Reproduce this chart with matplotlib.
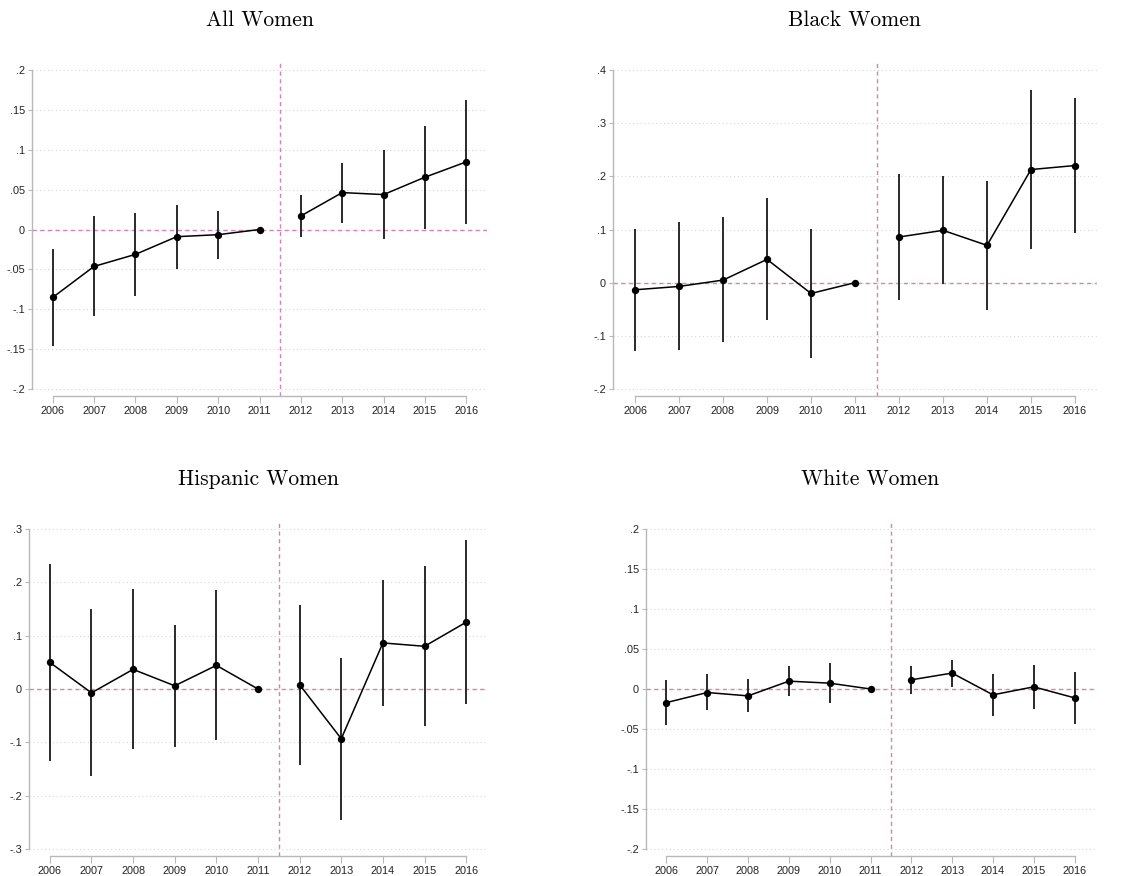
import numpy as np
import matplotlib.pyplot as plt

years = np.arange(2006, 2017)

# point estimates and 95% CI bounds, 2011 is the reference year
all_est = [-0.0852, -0.0463, -0.0312, -0.0090, -0.0065, 0.0, 0.0170, 0.0463, 0.0438, 0.0656, 0.0848]
all_hi = [-0.0249, 0.0165, 0.0207, 0.0312, 0.0232, 0.0, 0.0429, 0.0836, 0.0991, 0.1296, 0.1627]
all_lo = [-0.1464, -0.1091, -0.0831, -0.0496, -0.0371, 0.0, -0.0094, 0.0086, -0.0115, 0.0006, 0.0069]

black_est = [-0.0134, -0.0071, 0.0048, 0.0438, -0.0203, 0.0, 0.0859, 0.0984, 0.0702, 0.2128, 0.2203]
black_hi = [0.1016, 0.1135, 0.1230, 0.1588, 0.1003, 0.0, 0.2053, 0.2001, 0.1914, 0.3629, 0.3477]
black_lo = [-0.1290, -0.1270, -0.1120, -0.0706, -0.1410, 0.0, -0.0329, -0.0027, -0.0510, 0.0633, 0.0928]

hisp_est = [0.0499, -0.0072, 0.0368, 0.0060, 0.0443, 0.0, 0.0079, -0.0933, 0.0864, 0.0801, 0.1253]
hisp_hi = [0.2353, 0.1498, 0.1869, 0.1203, 0.1850, 0.0, 0.1574, 0.0587, 0.2051, 0.2303, 0.2786]
hisp_lo = [-0.1348, -0.1637, -0.1134, -0.1090, -0.0964, 0.0, -0.1417, -0.2460, -0.0324, -0.0700, -0.0280]

white_est = [-0.0170, -0.0044, -0.0086, 0.0098, 0.0073, 0.0, 0.0115, 0.0199, -0.0073, 0.0027, -0.0111]
white_hi = [0.0111, 0.0182, 0.0124, 0.0283, 0.0325, 0.0, 0.0287, 0.0362, 0.0186, 0.0300, 0.0212]
white_lo = [-0.0450, -0.0266, -0.0291, -0.0086, -0.0178, 0.0, -0.0057, 0.0031, -0.0333, -0.0245, -0.0438]

all_ticks = [-0.2, -0.15, -0.1, -0.05, 0, 0.05, 0.1, 0.15, 0.2]
all_labels = ['-.2', '-.15', '-.1', '-.05', '0', '.05', '.1', '.15', '.2']
black_ticks = [-0.2, -0.1, 0, 0.1, 0.2, 0.3, 0.4]
black_labels = ['-.2', '-.1', '0', '.1', '.2', '.3', '.4']
hisp_ticks = [-0.3, -0.2, -0.1, 0, 0.1, 0.2, 0.3]
hisp_labels = ['-.3', '-.2', '-.1', '0', '.1', '.2', '.3']

W, H = 1135, 876
fig = plt.figure(figsize=(W / 100, H / 100), dpi=100)
plt.rcParams['font.family'] = ['Liberation Sans', 'DejaVu Sans']

pink = '#d684ad'
spine_col = '#b8b8b8'


def panel(box, title, est, lo, hi, ticks, labels):
    left, right, top, bottom = box
    ax = fig.add_axes([left / W, 1 - bottom / H, (right - left) / W, (bottom - top) / H])
    est, lo, hi = map(np.asarray, (est, lo, hi))

    pad = 0.022 * (ticks[-1] - ticks[0])
    ax.set_ylim(ticks[0] - pad, ticks[-1] + pad)
    ax.set_xlim(2005.5, 2016.5)

    for t in ticks:
        ax.axhline(t, color='#d6d6d6', lw=0.8, ls=(0, (1, 2.5)), zorder=0)
    ax.axhline(0, color=pink, lw=1.0, ls=(0, (3, 2.5)), zorder=1)
    ax.axvline(2011.5, color=pink, lw=1.0, ls=(0, (3, 2.5)), zorder=1)

    ax.vlines(years, lo, hi, color='#2a2a2a', lw=1.4, zorder=2)
    pre = years <= 2011
    post = years >= 2012
    ax.plot(years[pre], est[pre], color='black', lw=1.1, zorder=3)
    ax.plot(years[post], est[post], color='black', lw=1.1, zorder=3)
    ax.scatter(years, est, s=28, color='black', zorder=4, linewidths=0)

    ax.set_yticks(ticks)
    ax.set_yticklabels(labels)
    ax.set_xticks(years)
    ax.set_xticklabels([str(y) for y in years])
    ax.tick_params(axis='y', length=3, width=0.8, color=spine_col, labelsize=7.8, pad=2, labelcolor='#222222')
    ax.tick_params(axis='x', length=5, width=0.8, color=spine_col, labelsize=7.8, pad=2, labelcolor='#222222')

    for s in ('top', 'right'):
        ax.spines[s].set_visible(False)
    ax.spines['left'].set_bounds(ticks[0], ticks[-1])
    ax.spines['bottom'].set_bounds(2006, 2016)
    for s in ('left', 'bottom'):
        ax.spines[s].set_color(spine_col)
        ax.spines[s].set_linewidth(1.0)
    ax.patch.set_alpha(0)

    fig.text((left + right) / 2 / W, 1 - (top - 43) / H, title, ha='center', va='center',
             fontsize=15.5, family='cmr10')
    return ax


panel((32, 487, 63, 396), 'All Women', all_est, all_lo, all_hi, all_ticks, all_labels)
panel((613, 1097, 63, 396), 'Black Women', black_est, black_lo, black_hi, black_ticks, black_labels)
panel((29, 487, 522, 856), 'Hispanic Women', hisp_est, hisp_lo, hisp_hi, hisp_ticks, hisp_labels)
panel((646, 1095, 522, 856), 'White Women', white_est, white_lo, white_hi, all_ticks, all_labels)

fig.savefig('out.png', dpi=100, facecolor='white')
